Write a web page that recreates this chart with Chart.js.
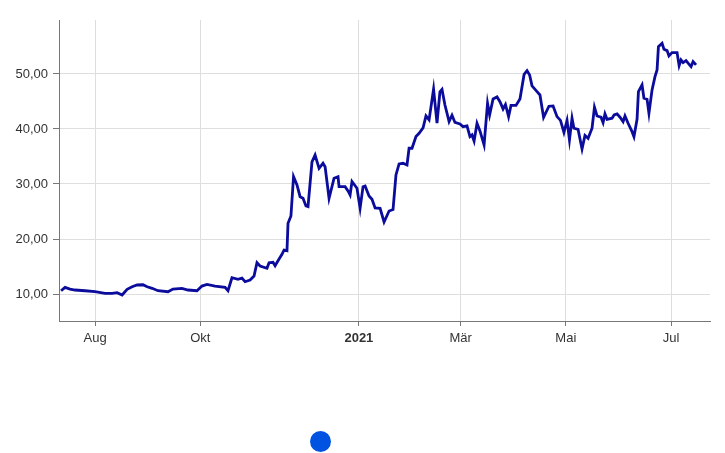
<!DOCTYPE html>
<html>
<head>
<meta charset="utf-8">
<script src="https://cdn.jsdelivr.net/npm/chart.js@4/dist/chart.umd.min.js"></script>
<style>
  body { margin: 0; background: #fff; }
  #wrap { position: relative; width: 725px; height: 350px; }
  #dot {
    position: absolute;
    left: 310px;
    top: 431px;
    width: 21px;
    height: 21px;
    border-radius: 50%;
    background: #0052e0;
  }
</style>
</head>
<body>
<div id="wrap"><canvas id="kurs"></canvas></div>
<div id="dot"></div>
<script>
// days counted from 1 Jul 2020
const days = [
  11.3, 13.6, 16.5, 19.4, 25.2, 31, 36.8, 40.9, 43.8, 46.7, 49.6, 52.5, 55.4,
  58.8, 61.2, 64.1, 67.5, 73.3, 76.2, 81.4, 84.9, 90.1, 93, 95.9, 100.6, 106.4,
  108.1, 110.4, 113.9, 116.2, 118, 120.9, 123.2, 124.9, 126.7, 130.7, 131.9,
  134.2, 135.4, 137.1, 139.4, 140.6, 142.3, 142.9, 144.6, 146.1, 148.1, 149.9,
  151.6, 153.3, 154.5, 156.8, 158.6, 160.9, 163.2, 164.4, 166.7, 169.6, 171.9,
  172.5, 176, 177.7, 178.9, 180, 182.9, 184.7, 186.4, 187.6, 189.9, 191.6,
  193.4, 196.3, 198.6, 201.5, 203.8, 205.5, 207.3, 209.6, 211.9, 213.1, 214.8,
  217.1, 218.9, 221.2, 222.9, 224.7, 227.3, 229.3, 231, 232.2, 233.9, 236.3,
  238, 239.7, 242.6, 244.4, 246.7, 248.4, 249.6, 250.8, 252.5, 254.2, 256.6,
  258.6, 259.8, 261.8, 264.1, 265.8, 267.6, 269, 270.8, 272.2, 275.1, 277.4,
  279.8, 281.5, 283, 284.4, 287.3, 289, 291.1, 294.2, 296.6, 298.9, 300.9,
  302.9, 304.7, 306.1, 307.6, 308.7, 311.1, 313.4, 315.1, 316.9, 319.2, 320.6,
  322.1, 324.4, 325.6, 326.7, 327.9, 330.8, 332, 333.7, 335.4, 337.2, 338.3,
  340.1, 342.4, 343.5, 345.3, 346.1, 348.2, 349.3, 351.1, 352.2, 354, 355.7,
  356.9, 357.7, 359.8, 360.9, 362.7, 363.8, 365.6, 368.5, 369.7, 370.8, 372,
  373.7, 374.9, 376.6, 377.8, 379.5,
];
const prices = [
  10.6, 11.22, 10.91, 10.73, 10.6, 10.42, 10.13, 10.13, 10.24, 9.82, 10.85,
  11.33, 11.64, 11.69, 11.33, 11.04, 10.6, 10.42, 10.91, 11.04, 10.73, 10.6,
  11.45, 11.76, 11.45, 11.22, 10.6, 12.96, 12.67, 12.91, 12.24, 12.55, 13.27,
  15.69, 15.09, 14.67, 15.69, 15.76, 15.15, 16.05, 17.22, 18.0, 17.87, 22.85,
  24.18, 31.33, 29.82, 27.69, 27.4, 26.0, 25.87, 34.0, 35.27, 32.85, 33.76,
  33.15, 27.4, 31.04, 31.33, 29.51, 29.51, 28.73, 28.0, 30.45, 29.22, 25.6,
  29.51, 29.64, 27.82, 27.22, 25.64, 25.58, 23.09, 25.09, 25.36, 31.64, 33.64,
  33.76, 33.45, 36.49, 36.49, 38.64, 39.22, 40.18, 42.36, 41.64, 47.22, 41.04,
  46.73, 47.18, 44.36, 41.33, 42.49, 41.18, 40.91, 40.42, 40.55, 38.6, 38.91,
  37.82, 41.04, 39.64, 37.09, 44.67, 42.55, 45.45, 45.82, 44.96, 43.64, 44.45,
  42.24, 44.27, 44.27, 45.45, 49.91, 50.6, 49.82, 47.82, 46.78, 46.18, 42.09,
  44.13, 44.18, 42.24, 41.55, 39.36, 41.55, 38.0, 41.95, 40.13, 39.91, 36.36,
  38.82, 38.31, 40.13, 43.95, 42.36, 42.13, 41.15, 42.73, 41.76, 41.95, 42.55,
  42.73, 42.13, 41.33, 42.36, 41.04, 39.51, 38.6, 41.76, 46.78, 48.0, 45.58,
  45.4, 42.85, 47.09, 49.51, 50.73, 54.96, 55.58, 54.49, 54.24, 53.27, 53.87,
  53.87, 51.51, 52.55, 52.06, 52.42, 51.95, 51.33, 52.24, 51.64,
];
const tickDays = [31, 92, 184, 243, 304, 365];
const tickLabels = ["Aug", "Okt", "2021", "Mär", "Mai", "Jul"];
const yTicks = [10, 20, 30, 40, 50];

const points = days.map((d, i) => ({ x: d, y: prices[i] }));

new Chart(document.getElementById("kurs"), {
  type: "line",
  data: {
    datasets: [
      {
        data: points,
        borderColor: "#0b0b9c",
        borderWidth: 2.8,
        pointRadius: 0,
        tension: 0,
        fill: false,
      },
    ],
  },
  options: {
    responsive: true,
    maintainAspectRatio: false,
    animation: false,
    layout: {
      padding: { left: 0, top: 20, right: 15, bottom: 0 },
    },
    plugins: {
      legend: { display: false },
      tooltip: { enabled: false },
    },
    scales: {
      x: {
        type: "linear",
        min: 10.1,
        max: 387.6,
        afterBuildTicks: (scale) => {
          scale.ticks = tickDays.map((v) => ({ value: v }));
        },
        afterFit: (scale) => {
          scale.height = 29;
        },
        ticks: {
          autoSkip: false,
          maxRotation: 0,
          padding: 5,
          color: "#333",
          font: (ctx) => ({
            family: "Liberation Sans, Arial, sans-serif",
            size: 13,
            weight: tickLabels[ctx.index] === "2021" ? "bold" : "normal",
          }),
          callback: (value, index) => tickLabels[index],
        },
        grid: {
          color: "#dedede",
          tickLength: 5,
          tickColor: "#777",
        },
        border: { color: "#777", width: 1 },
      },
      y: {
        min: 5.1,
        max: 59.8,
        afterBuildTicks: (scale) => {
          scale.ticks = yTicks.map((v) => ({ value: v }));
        },
        afterFit: (scale) => {
          scale.width = 59;
        },
        ticks: {
          padding: 5,
          color: "#333",
          font: { family: "Liberation Sans, Arial, sans-serif", size: 13 },
          callback: (value) => value.toFixed(2).replace(".", ","),
        },
        grid: {
          color: "#dedede",
          tickLength: 6,
          tickColor: "#777",
        },
        border: { color: "#777", width: 1 },
      },
    },
  },
});
</script>
</body>
</html>
